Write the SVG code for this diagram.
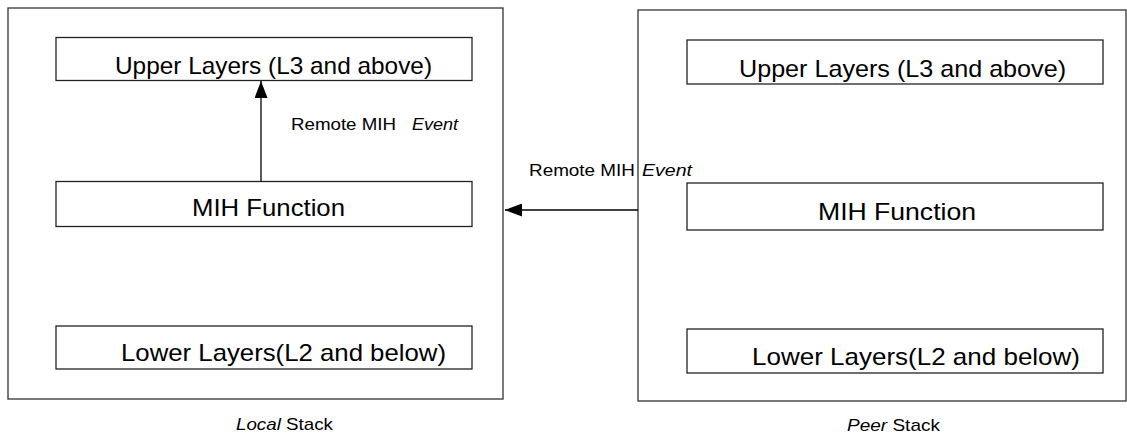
<svg xmlns="http://www.w3.org/2000/svg" width="1127" height="434" viewBox="0 0 1127 434">
<defs>
<style>
.box{fill:#fff;stroke:#222;stroke-width:1.3}
.outer{fill:none;stroke:#333;stroke-width:1.3}
.t{font-family:"Liberation Sans",Arial,sans-serif;fill:#000}
.big{font-size:24px}
.small{font-size:17px}
.it{font-style:italic}
.conn{stroke:#000;stroke-width:1.3;fill:none}
</style>
<marker id="ah" markerWidth="17" markerHeight="13" refX="17" refY="6.5" orient="auto" markerUnits="userSpaceOnUse">
<path d="M0,0 L17,6.5 L0,13 Z" fill="#000"/>
</marker>
</defs>
<rect width="1127" height="434" fill="#fff"/>
<g id="local-stack">
<rect class="outer" x="8" y="8" width="495" height="391"/>
<text class="t small" x="236" y="430" textLength="97" lengthAdjust="spacingAndGlyphs"><tspan class="it">Local</tspan> Stack</text>
</g>
<g id="peer-stack">
<rect class="outer" x="638" y="10" width="488" height="391"/>
<text class="t small" x="847" y="431" textLength="93" lengthAdjust="spacingAndGlyphs"><tspan class="it">Peer</tspan> Stack</text>
</g>
<g id="local-upper">
<rect class="box" x="56" y="37.5" width="416" height="43"/>
<text class="t big" x="115" y="74" textLength="317" lengthAdjust="spacingAndGlyphs">Upper Layers (L3 and above)</text>
</g>
<g id="local-mih">
<rect class="box" x="56" y="181.5" width="416" height="45"/>
<text class="t big" x="192" y="216" textLength="153" lengthAdjust="spacingAndGlyphs">MIH Function</text>
</g>
<g id="local-lower">
<rect class="box" x="56" y="326" width="416" height="43"/>
<text class="t big" x="121" y="361" textLength="325" lengthAdjust="spacingAndGlyphs">Lower Layers(L2 and below)</text>
</g>
<g id="peer-upper">
<rect class="box" x="687" y="40" width="416" height="44"/>
<text class="t big" x="739" y="77" textLength="327" lengthAdjust="spacingAndGlyphs">Upper Layers (L3 and above)</text>
</g>
<g id="peer-mih">
<rect class="box" x="687" y="183" width="416" height="47"/>
<text class="t big" x="818" y="220" textLength="158" lengthAdjust="spacingAndGlyphs">MIH Function</text>
</g>
<g id="peer-lower">
<rect class="box" x="687" y="329" width="416" height="44"/>
<text class="t big" x="752" y="365" textLength="328" lengthAdjust="spacingAndGlyphs">Lower Layers(L2 and below)</text>
</g>
<g id="connectors">
<line class="conn" x1="261" y1="181.5" x2="261" y2="81" marker-end="url(#ah)"/>
<text class="t small" x="291" y="130" textLength="105" lengthAdjust="spacingAndGlyphs">Remote MIH</text>
<text class="t small it" x="412" y="130" textLength="46" lengthAdjust="spacingAndGlyphs">Event</text>
<line class="conn" x1="638" y1="210" x2="505" y2="210" marker-end="url(#ah)"/>
<text class="t small" x="529" y="176" textLength="106" lengthAdjust="spacingAndGlyphs">Remote MIH</text>
<text class="t small it" x="642" y="176" textLength="50" lengthAdjust="spacingAndGlyphs">Event</text>
</g>
</svg>
